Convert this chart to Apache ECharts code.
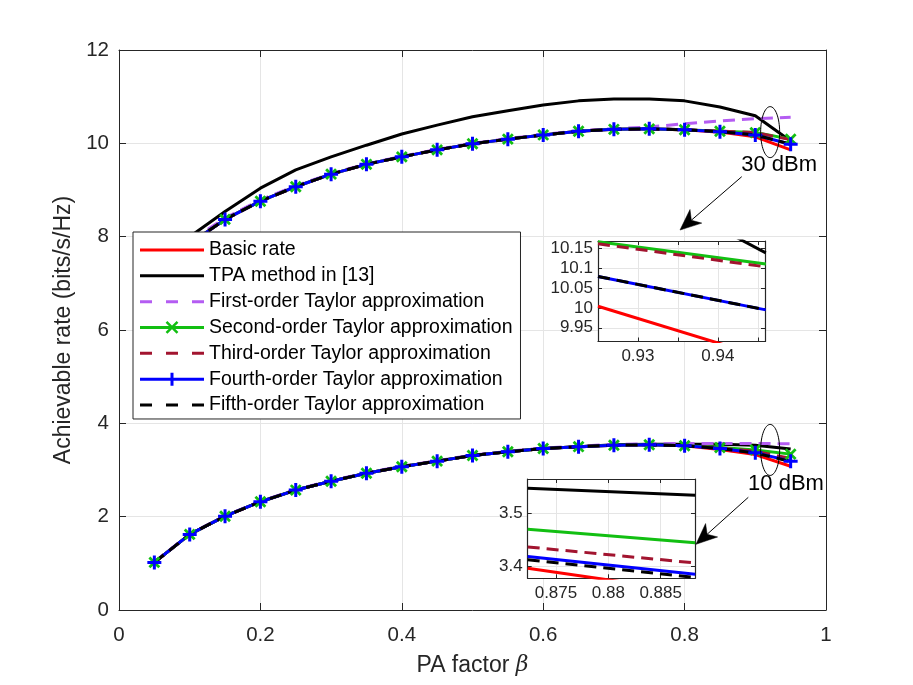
<!DOCTYPE html>
<html>
<head>
<meta charset="utf-8">
<title>Achievable rate vs PA factor</title>
<script src="https://cdn.jsdelivr.net/npm/echarts@6/dist/echarts.min.js"></script>
<style>
  html, body { margin: 0; padding: 0; background: #fff; }
  #chart { width: 913px; height: 685px; }
</style>
</head>
<body>
<div id="chart"></div>
<script>
// PA factor samples
var beta = [0.05, 0.10, 0.15, 0.20, 0.25, 0.30, 0.35, 0.40, 0.45, 0.50,
            0.55, 0.60, 0.65, 0.70, 0.75, 0.80, 0.85, 0.90, 0.95];

// 30 dBm curves
var basic30  = [7.00, 7.85, 8.37, 8.76, 9.07, 9.34, 9.55, 9.71, 9.86, 9.99, 10.09, 10.18, 10.26, 10.30, 10.31, 10.29, 10.24, 10.14, 9.86];
var tpa30    = [7.10, 8.00, 8.54, 9.04, 9.43, 9.71, 9.96, 10.20, 10.39, 10.57, 10.70, 10.82, 10.91, 10.95, 10.95, 10.91, 10.78, 10.59, 10.05];
var first30  = [7.02, 7.90, 8.40, 8.79, 9.09, 9.35, 9.56, 9.72, 9.87, 10.00, 10.10, 10.19, 10.27, 10.31, 10.35, 10.42, 10.48, 10.53, 10.56];
var second30 = [7.00, 7.85, 8.37, 8.76, 9.07, 9.34, 9.55, 9.71, 9.86, 9.99, 10.09, 10.18, 10.26, 10.30, 10.31, 10.29, 10.26, 10.23, 10.09];
var third30  = [7.00, 7.85, 8.37, 8.76, 9.07, 9.34, 9.55, 9.71, 9.86, 9.99, 10.09, 10.18, 10.26, 10.30, 10.31, 10.29, 10.26, 10.23, 10.08];
var fourth30 = [7.00, 7.85, 8.37, 8.76, 9.07, 9.34, 9.55, 9.71, 9.86, 9.99, 10.09, 10.18, 10.26, 10.30, 10.31, 10.29, 10.25, 10.18, 9.98];
var fifth30  = [7.00, 7.85, 8.37, 8.76, 9.07, 9.34, 9.55, 9.71, 9.86, 9.99, 10.09, 10.18, 10.26, 10.30, 10.31, 10.29, 10.25, 10.18, 9.98];

// 10 dBm curves
var basic10  = [1.02, 1.62, 2.01, 2.32, 2.57, 2.76, 2.93, 3.07, 3.19, 3.31, 3.39, 3.46, 3.50, 3.53, 3.54, 3.52, 3.44, 3.33, 3.08];
var tpa10    = [1.02, 1.62, 2.01, 2.32, 2.57, 2.76, 2.93, 3.07, 3.19, 3.31, 3.39, 3.46, 3.50, 3.54, 3.55, 3.55, 3.55, 3.53, 3.45];
var first10  = [1.03, 1.63, 2.02, 2.33, 2.58, 2.77, 2.94, 3.08, 3.20, 3.32, 3.40, 3.47, 3.51, 3.55, 3.56, 3.57, 3.57, 3.57, 3.56];
var second10 = [1.02, 1.62, 2.01, 2.32, 2.57, 2.76, 2.93, 3.07, 3.19, 3.31, 3.39, 3.46, 3.50, 3.53, 3.54, 3.52, 3.48, 3.43, 3.34];
var third10  = [1.02, 1.62, 2.01, 2.32, 2.57, 2.76, 2.93, 3.07, 3.19, 3.31, 3.39, 3.46, 3.50, 3.53, 3.54, 3.52, 3.47, 3.40, 3.25];
var fourth10 = [1.02, 1.62, 2.01, 2.32, 2.57, 2.76, 2.93, 3.07, 3.19, 3.31, 3.39, 3.46, 3.50, 3.53, 3.54, 3.52, 3.46, 3.37, 3.19];
var fifth10  = [1.02, 1.62, 2.01, 2.32, 2.57, 2.76, 2.93, 3.07, 3.19, 3.31, 3.39, 3.46, 3.50, 3.53, 3.54, 3.52, 3.46, 3.365, 3.18];

// zoomed samples, 30 dBm inset
var inset30Beta   = [0.925, 0.946];
var inset30Basic  = [10.004, 9.875];
var inset30Tpa    = [10.362, 10.138];
var inset30First  = [10.55, 10.56];
var inset30Second = [10.166, 10.110];
var inset30Third  = [10.161, 10.103];
var inset30Fourth = [10.079, 9.995];
var inset30Fifth  = [10.079, 9.995];

// zoomed samples, 10 dBm inset
var inset10Beta   = [0.8723, 0.8883];
var inset10Basic  = [3.397, 3.352];
var inset10Tpa    = [3.547, 3.534];
var inset10First  = [3.575, 3.575];
var inset10Second = [3.470, 3.445];
var inset10Third  = [3.437, 3.407];
var inset10Fourth = [3.419, 3.386];
var inset10Fifth  = [3.413, 3.380];

// annotations (data coordinates of the main axes)
var noteTexts   = ['30 dBm', '10 dBm'];
var noteAnchors = [[0.9338, 9.54], [0.9434, 2.70]];
var ringCenters = [[0.921, 10.24], [0.921, 3.43]];
var arrowTails  = [[0.8808, 9.285], [0.8901, 2.415]];
var arrowTips   = [[0.7935, 8.142], [0.8161, 1.408]];

var FONT = 'Liberation Sans, Arial, Helvetica, sans-serif';
var INK = '#262626';
var GRID = '#e5e5e5';
var DASH = [12, 7];

var plusPath = 'path://M5.5,0H8.5V5.5H14V8.5H8.5V14H5.5V8.5H0V5.5H5.5Z';
var xPath = 'path://M6,0H9V6H15V9H9V15H6V9H0V6H6Z';

var iconSolid = 'path://M0,0H64V3H0Z';
var iconDash = 'path://M0,0H12V3H0Z M26,0H38V3H26Z M52,0H64V3H52Z';
var iconX = 'path://M0,5H64V8H0Z M25.616,1.884L27.384,0.116L38.384,11.116L36.616,12.884Z M25.616,11.116L36.616,0.116L38.384,1.884L27.384,12.884Z';
var iconPlus = 'path://M0,5H64V8H0Z M30.5,0H33.5V13H30.5Z';

var methods = [
  { name: 'Basic rate', color: '#ff0000', dash: false, icon: iconSolid,
    d30: basic30, d10: basic10, i30: inset30Basic, i10: inset10Basic },
  { name: 'TPA method in [13]', color: '#000000', dash: false, icon: iconSolid,
    d30: tpa30, d10: tpa10, i30: inset30Tpa, i10: inset10Tpa },
  { name: 'First-order Taylor approximation', color: '#b45cf2', dash: true, icon: iconDash,
    d30: first30, d10: first10, i30: inset30First, i10: inset10First },
  { name: 'Second-order Taylor approximation', color: '#12bf12', dash: false, icon: iconX,
    marker: xPath, markerSize: 14, markerRotate: 45,
    d30: second30, d10: second10, i30: inset30Second, i10: inset10Second },
  { name: 'Third-order Taylor approximation', color: '#a2142f', dash: true, icon: iconDash,
    d30: third30, d10: third10, i30: inset30Third, i10: inset10Third },
  { name: 'Fourth-order Taylor approximation', color: '#0000ff', dash: false, icon: iconPlus,
    marker: plusPath, markerSize: 14, markerRotate: 0,
    d30: fourth30, d10: fourth10, i30: inset30Fourth, i10: inset10Fourth },
  { name: 'Fifth-order Taylor approximation', color: '#000000', dash: true, icon: iconDash,
    d30: fifth30, d10: fifth10, i30: inset30Fifth, i10: inset10Fifth }
];

function pairs(xs, ys) {
  return xs.map(function (x, i) { return [x, ys[i]]; });
}

var series = [];
methods.forEach(function (m) {
  var lineStyle = { color: m.color, width: 3, type: m.dash ? DASH : 'solid' };
  [m.d30, m.d10].forEach(function (vals) {
    series.push({
      name: m.name, type: 'line', xAxisIndex: 0, yAxisIndex: 0,
      data: pairs(beta, vals),
      symbol: m.marker || 'none', symbolSize: m.markerSize || 0,
      symbolRotate: m.markerRotate || 0,
      itemStyle: { color: m.color, borderWidth: 0 },
      lineStyle: lineStyle, z: 2, silent: true
    });
  });
  series.push({
    name: m.name, type: 'line', xAxisIndex: 2, yAxisIndex: 2, z: 12,
    data: pairs(inset30Beta, m.i30), symbol: 'none',
    itemStyle: { color: m.color }, lineStyle: lineStyle, silent: true
  });
  series.push({
    name: m.name, type: 'line', xAxisIndex: 4, yAxisIndex: 4, z: 12,
    data: pairs(inset10Beta, m.i10), symbol: 'none',
    itemStyle: { color: m.color }, lineStyle: lineStyle, silent: true
  });
});

function multipleOf(step) {
  return function (v) {
    var k = v / step;
    return Math.abs(k - Math.round(k)) < 1e-6 ? String(+v.toFixed(4)) : '';
  };
}

function mainAxis(extra) {
  var base = {
    type: 'value', gridIndex: 0,
    axisLine: { onZero: false, lineStyle: { color: INK, width: 1 } },
    axisTick: { inside: true, length: 7, lineStyle: { color: INK } },
    axisLabel: { color: INK, fontSize: 20.5, fontFamily: FONT },
    splitLine: { show: false }
  };
  return Object.assign(base, extra);
}

function insetAxis(extra) {
  var base = {
    type: 'value', z: 11,
    axisLine: { onZero: false, lineStyle: { color: INK, width: 1.2 } },
    axisTick: { inside: true, length: 4, lineStyle: { color: INK } },
    axisLabel: { show: false, color: INK, fontSize: 17, fontFamily: FONT, margin: 5,
                 showMinLabel: false, showMaxLabel: false },
    splitLine: { show: false }
  };
  return Object.assign(base, extra);
}

var chart = echarts.init(document.getElementById('chart'), null, { renderer: 'canvas' });

chart.setOption({
  animation: false,
  backgroundColor: '#fff',
  textStyle: { fontFamily: FONT },
  grid: [
    { left: 119, right: 87, top: 50, bottom: 75 },
    { left: 598, top: 241, width: 167, height: 100.5, show: true,
      backgroundColor: '#fff', borderWidth: 0, z: 10 },
    { left: 527.7, top: 479, width: 167.3, height: 99.3, show: true,
      backgroundColor: '#fff', borderWidth: 0, z: 10 }
  ],
  legend: {
    data: methods.map(function (m) {
      return { name: m.name, icon: m.icon };
    }),
    orient: 'vertical', left: 133, top: 232,
    itemWidth: 64, itemHeight: 14, itemGap: 5.83,
    padding: [8, 8, 4, 7],
    backgroundColor: '#fff', borderColor: INK, borderWidth: 1, borderRadius: 0,
    selectedMode: false, symbolKeepAspect: true,
    itemStyle: { borderWidth: 0 },
    textStyle: { color: '#000', fontSize: 19.5, fontFamily: FONT, lineHeight: 20 },
    z: 6
  },
  xAxis: [
    mainAxis({
      position: 'bottom', min: 0, max: 1, interval: 0.2,
      name: 'PA factor {i|β}', nameLocation: 'middle', nameGap: 44,
      nameTextStyle: { color: INK, fontSize: 23, fontFamily: FONT,
        rich: { i: { fontStyle: 'italic', fontFamily: 'DejaVu Serif', fontSize: 22, color: INK } } },
      axisLabel: { color: INK, fontSize: 20.5, fontFamily: FONT, margin: 15 },
      splitLine: { show: true, lineStyle: { color: GRID, width: 1 } }
    }),
    mainAxis({
      position: 'top', min: 0, max: 1, interval: 0.2,
      axisLabel: { show: false }
    }),
    insetAxis({
      gridIndex: 1, position: 'bottom', min: 0.925, max: 0.9459, interval: 0.005,
      axisLabel: { show: true, color: INK, fontSize: 17, fontFamily: FONT, margin: 6,
                   formatter: multipleOf(0.01) },
      splitLine: { show: true, lineStyle: { color: GRID, width: 1 } }
    }),
    insetAxis({ gridIndex: 1, position: 'top', min: 0.925, max: 0.9459, interval: 0.005 }),
    insetAxis({
      gridIndex: 2, position: 'bottom', min: 0.8723, max: 0.88828, splitNumber: 3,
      axisLabel: { show: true, color: INK, fontSize: 17, fontFamily: FONT, margin: 7,
                   showMinLabel: false, showMaxLabel: false, formatter: multipleOf(0.005) },
      splitLine: { show: true, lineStyle: { color: GRID, width: 1 } }
    }),
    insetAxis({ gridIndex: 2, position: 'top', min: 0.8723, max: 0.88828, splitNumber: 3 })
  ],
  yAxis: [
    mainAxis({
      position: 'left', min: 0, max: 12, interval: 2,
      name: 'Achievable rate (bits/s/Hz)', nameLocation: 'middle', nameGap: 35,
      nameTextStyle: { color: INK, fontSize: 23, fontFamily: FONT },
      axisLabel: { color: INK, fontSize: 20.5, fontFamily: FONT, margin: 10 },
      splitLine: { show: true, lineStyle: { color: GRID, width: 1 } }
    }),
    mainAxis({
      position: 'right', min: 0, max: 12, interval: 2,
      axisLabel: { show: false }
    }),
    insetAxis({
      gridIndex: 1, position: 'left', min: 9.9155, max: 10.168, splitNumber: 5,
      axisLabel: { show: true, color: INK, fontSize: 17, fontFamily: FONT, margin: 5,
                   showMinLabel: false, showMaxLabel: false, formatter: multipleOf(0.05) },
      splitLine: { show: true, lineStyle: { color: GRID, width: 1 } }
    }),
    insetAxis({ gridIndex: 1, position: 'right', min: 9.9155, max: 10.168, splitNumber: 5 }),
    insetAxis({
      gridIndex: 2, position: 'left', min: 3.3783, max: 3.5642, splitNumber: 2,
      axisLabel: { show: true, color: INK, fontSize: 17, fontFamily: FONT, margin: 5,
                   showMinLabel: false, showMaxLabel: false, formatter: multipleOf(0.1) },
      splitLine: { show: true, lineStyle: { color: GRID, width: 1 } }
    }),
    insetAxis({ gridIndex: 2, position: 'right', min: 3.3783, max: 3.5642, splitNumber: 2 })
  ],
  series: series
});

// ellipses, labels and arrows placed through the main axes
function toPx(p) {
  return chart.convertToPixel({ xAxisIndex: 0, yAxisIndex: 0 }, p);
}

var graphics = [];
ringCenters.forEach(function (c) {
  var p = toPx(c);
  graphics.push({
    type: 'ellipse', z: 50, silent: true,
    shape: { cx: p[0], cy: p[1], rx: 9.5, ry: 25.5 },
    style: { fill: null, stroke: '#000', lineWidth: 1 }
  });
});
noteTexts.forEach(function (t, i) {
  var p = toPx(noteAnchors[i]);
  graphics.push({
    type: 'text', z: 51, silent: true, x: p[0], y: p[1],
    style: { text: t, fill: '#000', font: '22px ' + FONT, align: 'center', verticalAlign: 'middle' }
  });
});
arrowTips.forEach(function (tipData, i) {
  var tip = toPx(tipData);
  var tail = toPx(arrowTails[i]);
  var dx = tip[0] - tail[0], dy = tip[1] - tail[1];
  var len = Math.sqrt(dx * dx + dy * dy);
  var ux = dx / len, uy = dy / len;
  var nx = -uy, ny = ux;
  var L = 21, W = 9, back = 15;
  var bx = tip[0] - ux * L, by = tip[1] - uy * L;
  var ix = tip[0] - ux * back, iy = tip[1] - uy * back;
  graphics.push({
    type: 'line', z: 50, silent: true,
    shape: { x1: tail[0], y1: tail[1], x2: ix, y2: iy },
    style: { stroke: '#000', lineWidth: 1 }
  });
  graphics.push({
    type: 'polygon', z: 50, silent: true,
    shape: { points: [[tip[0], tip[1]], [bx + nx * W, by + ny * W], [ix, iy], [bx - nx * W, by - ny * W]] },
    style: { fill: '#000', stroke: '#000', lineWidth: 0.5 }
  });
});
chart.setOption({ graphic: graphics });
</script>
</body>
</html>
